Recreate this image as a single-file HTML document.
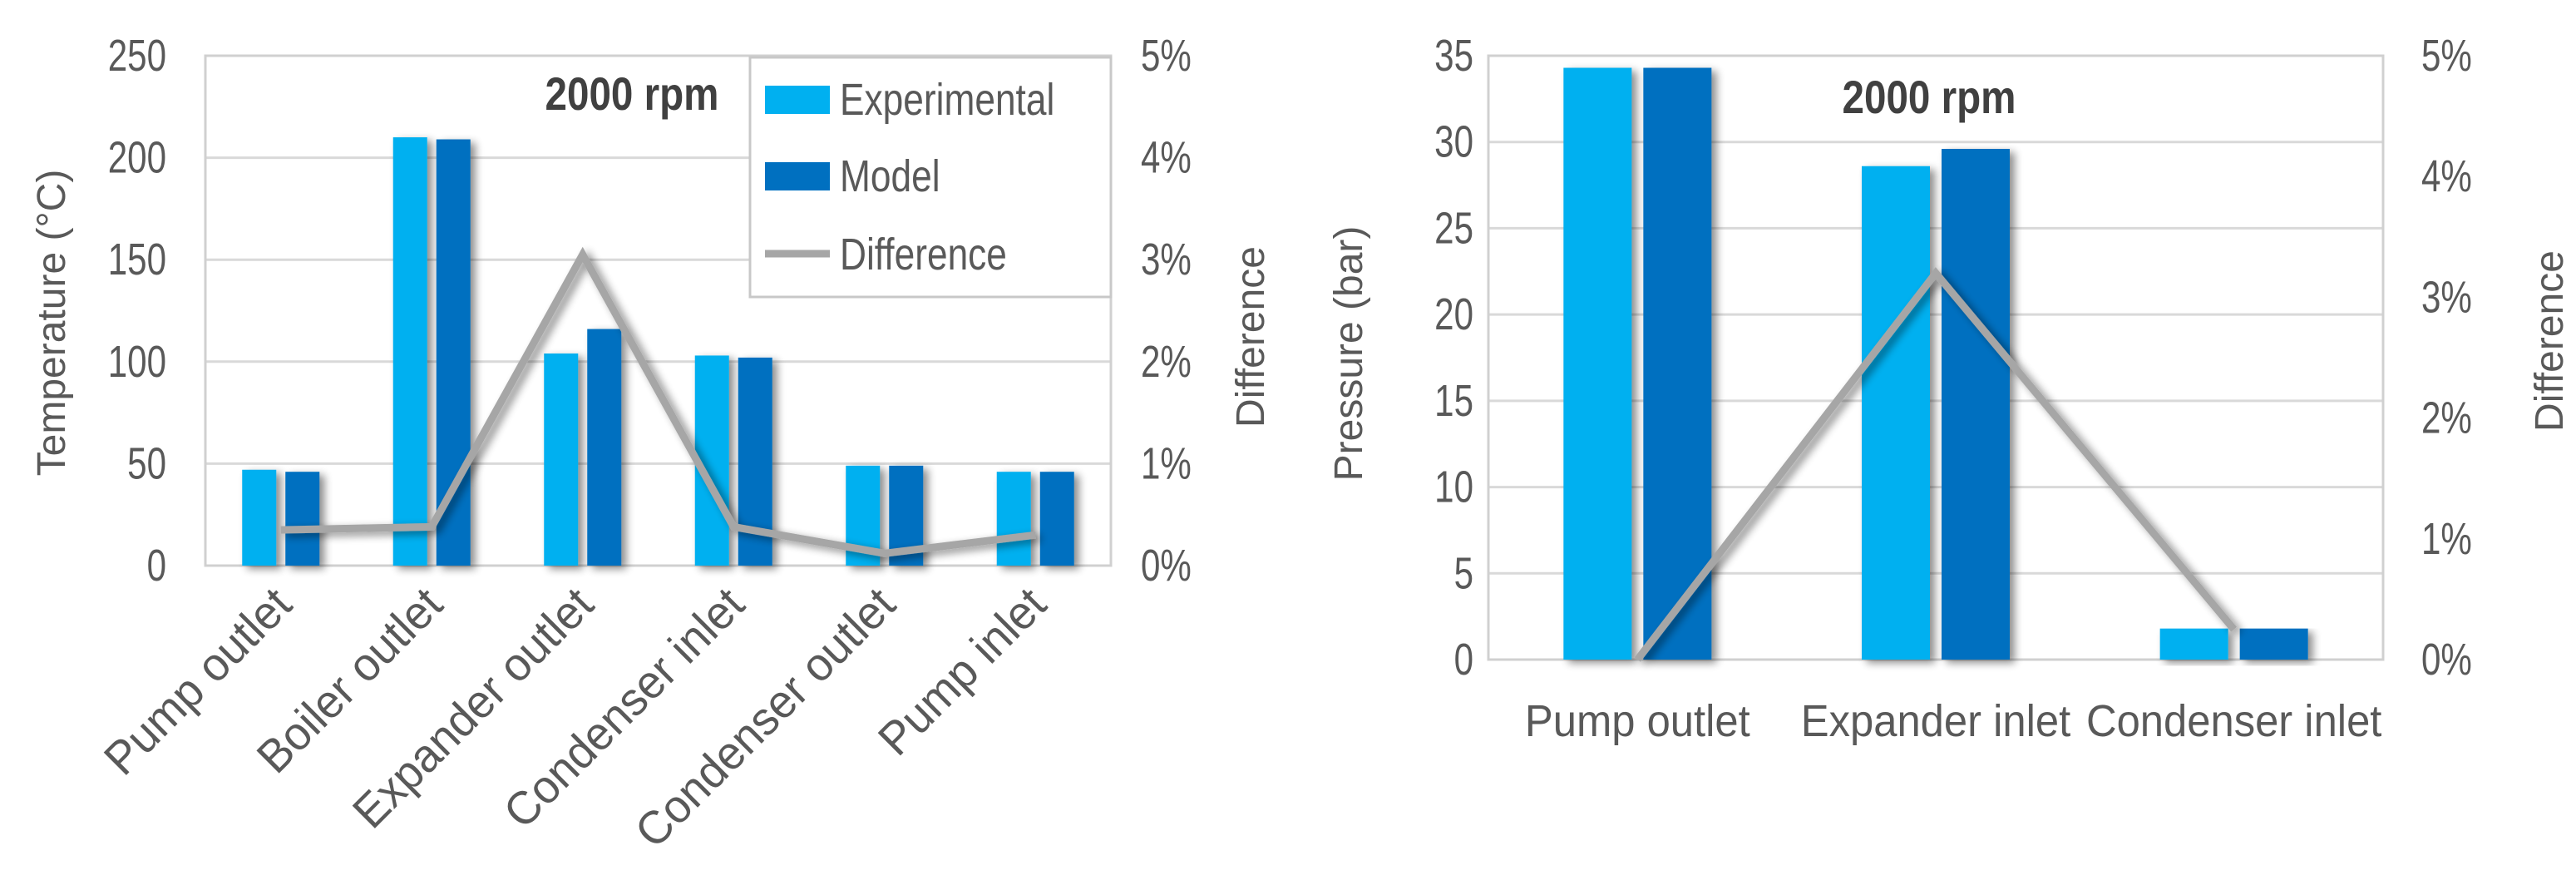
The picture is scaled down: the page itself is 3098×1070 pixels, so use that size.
<!DOCTYPE html>
<html><head><meta charset="utf-8"><style>
html,body{margin:0;padding:0;background:#fff;}
svg{display:block;font-family:"Liberation Sans",sans-serif;}
</style></head><body>
<svg id="chart" width="3098" height="1070" viewBox="0 0 3098 1070" xmlns="http://www.w3.org/2000/svg">
<defs>
<filter id="sh" x="-30%" y="-10%" width="180%" height="130%">
<feGaussianBlur in="SourceAlpha" stdDeviation="5"/><feOffset dx="6" dy="4"/>
<feComponentTransfer><feFuncA type="linear" slope="0.45"/></feComponentTransfer>
<feMerge><feMergeNode/><feMergeNode in="SourceGraphic"/></feMerge></filter>
</defs>
<g id="left"></g>
<g id="right"></g>
</svg>
<script>
const tCategories=["Pump outlet","Boiler outlet","Expander outlet","Condenser inlet","Condenser outlet","Pump inlet"];
const tExperimental=[47,210,104,103,49,46];
const tModel=[46,209,116,102,49,46];
const tDifference=[0.35,0.38,3.05,0.38,0.12,0.3];
const tTicks=[0,50,100,150,200,250];
const pCategories=["Pump outlet","Expander inlet","Condenser inlet"];
const pExperimental=[34.3,28.6,1.8];
const pModel=[34.3,29.6,1.8];
const pDifference=[0,3.2,0.25];
const pTicks=[0,5,10,15,20,25,30,35];
const pctTicks=[0,1,2,3,4,5];

const NS="http://www.w3.org/2000/svg";
function mk(p,tag,at,txt){const e=document.createElementNS(NS,tag);for(const k in at)e.setAttribute(k,at[k]);if(txt!==undefined)e.textContent=txt;p.appendChild(e);return e;}
const TXT="#595959";
function txt(p,x,y,s,o){
  o=o||{};
  const tr=`translate(${x} ${y})`+(o.rot?` rotate(${o.rot})`:"")+` scale(${o.sx||1} 1)`;
  const at={x:0,y:0,transform:tr,"font-size":o.fs||46,fill:o.fill||TXT,"text-anchor":o.anchor||"start"};
  if(o.bold)at["font-weight"]="bold";
  return mk(p,"text",at,s);
}

function draw(g,o){
  const {L,R,T,B,cats,exp,mod,diff,ticks,ymax,bw,gap}=o;
  const y=v=>B-(v/ymax)*(B-T);
  const y2=v=>B-(v/5)*(B-T);
  const cw=(R-L)/cats.length;
  const cx=i=>L+cw*(i+0.5);
  ticks.forEach(t=>{
    if(t>0){const gl=mk(g,"line",{x1:L,x2:R,y1:y(t),y2:y(t),stroke:"#d9d9d9","stroke-width":3});
    
    }
    const tl=txt(g,o.tickX,y(t)+18,t,{fs:54,sx:0.78,anchor:"end"});
    
    
  });
  pctTicks.forEach(t=>{
    const tl=txt(g,o.rTickX,y2(t)+18,t+"%",{fs:54,sx:0.78});
    
    
  });
  const fr=mk(g,"rect",{x:L,y:T,width:R-L,height:B-T,fill:"none",stroke:"#d0d0d0","stroke-width":3});
  
  
  cats.forEach((c,i)=>{
    const b1=mk(g,"rect",{x:cx(i)-gap/2-bw,y:y(exp[i]),width:bw,height:B-y(exp[i]),fill:"#00b0f0",filter:"url(#sh)"});
    
    
    const b2=mk(g,"rect",{x:cx(i)+gap/2,y:y(mod[i]),width:bw,height:B-y(mod[i]),fill:"#0070c0",filter:"url(#sh)"});
    
    
  });
  const pts=diff.map((d,i)=>cx(i)+","+y2(d)).join(" ");
  const ln=mk(g,"polyline",{points:pts,fill:"none",stroke:"#a6a6a6","stroke-width":9,"stroke-linejoin":"miter",filter:"url(#sh)"});
  
  
  cats.forEach((c,i)=>{
    let t;
    if(o.rot){t=txt(g,cx(i)+16,B+50,c,{fs:56,sx:0.97,anchor:"end",rot:-45});}
    else{t=txt(g,cx(i),B+92,c,{fs:54,sx:0.94,anchor:"middle"});}
    
    
  });
  const yt=txt(g,o.ytX,o.ytY,o.yTitle,{fs:48,anchor:"middle",rot:-90});
  
  
  const y2t=txt(g,o.y2tX,o.y2tY,"Difference",{fs:48,anchor:"middle",rot:-90});
  
  
  const rp=txt(g,o.rpmX,o.rpmY,"2000 rpm",{fs:56,sx:0.85,anchor:"middle",bold:true,fill:"#404040"});
  
  
}
const gl=document.getElementById("left"), gr=document.getElementById("right");
draw(gl,{L:247,R:1336,T:67,B:680,cats:tCategories,exp:tExperimental,mod:tModel,diff:tDifference,ticks:tTicks,ymax:250,bw:41,gap:11,tickX:200,rTickX:1372,ytX:78,ytY:388,y2tX:1520,y2tY:405,yTitle:"Temperature (°C)",rpmX:760,rpmY:132,rot:true});
draw(gr,{L:1790,R:2866,T:67,B:793,cats:pCategories,exp:pExperimental,mod:pModel,diff:pDifference,ticks:pTicks,ymax:35,bw:82,gap:14,tickX:1772,rTickX:2912,ytX:1638,ytY:425,y2tX:3082,y2tY:410,yTitle:"Pressure (bar)",rpmX:2320,rpmY:136,rot:false});
const lg=mk(gl,"g",{});


mk(lg,"rect",{x:902,y:69,width:434,height:288,fill:"#fff",stroke:"#c8c8c8","stroke-width":3});
const le=[["Experimental","#00b0f0",119],["Model","#0070c0",211]];
le.forEach(d=>{
  const e=mk(lg,"g",{});
  
  
  mk(e,"rect",{x:920,y:d[2]-16,width:78,height:34,fill:d[1]});
  txt(e,1010,d[2]+19,d[0],{fs:54,sx:0.82});
});
const ed=mk(lg,"g",{});


mk(ed,"line",{x1:920,x2:998,y1:305,y2:305,stroke:"#a6a6a6","stroke-width":9});
txt(ed,1010,324,"Difference",{fs:54,sx:0.82});
</script>
</body></html>
